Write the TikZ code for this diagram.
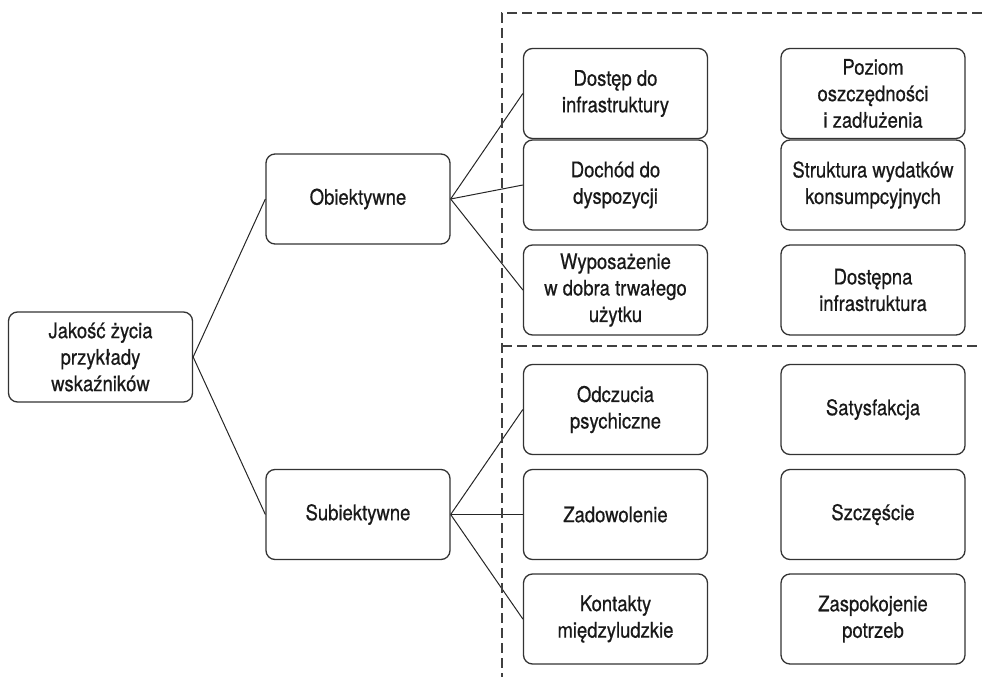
\documentclass[tikz,border=0pt]{standalone}
\usepackage{fontspec}
\setmainfont{TeX Gyre Heros}[FakeStretch=0.86,FakeBold=0.6]
\begin{document}
\begin{tikzpicture}[x=1pt,y=-1pt,
  box/.style={draw=black!80, line width=1.3pt, rounded corners=9pt, rectangle,
    minimum width=184pt, minimum height=90pt, inner sep=2pt, align=center,
    font=\fontsize{21.5}{26.5}\selectfont, text=black!90},
  link/.style={draw=black!85, line width=1pt},
  sep/.style={draw=black!75, line width=1.4pt, dash pattern=on 10pt off 5pt}]
\useasboundingbox (0,0) rectangle (982,677);
\node[box] (root) at (100.5,357) {Jakość życia\\przykłady\\wskaźników};
\node[box] (obj) at (358,199) {Obiektywne};
\node[box] (sub) at (358,514.5) {Subiektywne};
\node[box] (a1) at (615.5,93.5) {Dostęp do\\infrastruktury};
\node[box] (a2) at (615.5,185) {Dochód do\\dyspozycji};
\node[box] (a3) at (615.5,290) {Wyposażenie\\w dobra trwałego\\użytku};
\node[box] (b1) at (873,93.5) {Poziom\\oszczędności\\i zadłużenia};
\node[box] (b2) at (873,185) {Struktura wydatków\\konsumpcyjnych};
\node[box] (b3) at (873,290) {Dostępna\\infrastruktura};
\node[box] (c1) at (615.5,409.5) {Odczucia\\psychiczne};
\node[box] (c2) at (615.5,514.5) {Zadowolenie};
\node[box] (c3) at (615.5,619) {Kontakty\\międzyludzkie};
\node[box] (d1) at (873,409.5) {Satysfakcja};
\node[box] (d2) at (873,514.5) {Szczęście};
\node[box] (d3) at (873,619) {Zaspokojenie\\potrzeb};
\draw[link] (root.east) -- (obj.west);
\draw[link] (root.east) -- (sub.west);
\draw[link] (obj.east) -- (a1.west);
\draw[link] (obj.east) -- (a2.west);
\draw[link] (obj.east) -- (a3.west);
\draw[link] (sub.east) -- (c1.west);
\draw[link] (sub.east) -- (c2.west);
\draw[link] (sub.east) -- (c3.west);
\coordinate (tl) at (502,13);
\coordinate (tr) at (982,13);
\coordinate (bl) at (502,677);
\coordinate (ml) at (502,346);
\coordinate (mr) at (982,346);
\draw[sep] (tr) -- (tl) -- (bl);
\draw[sep] (ml) -- (mr);
\end{tikzpicture}
\end{document}
